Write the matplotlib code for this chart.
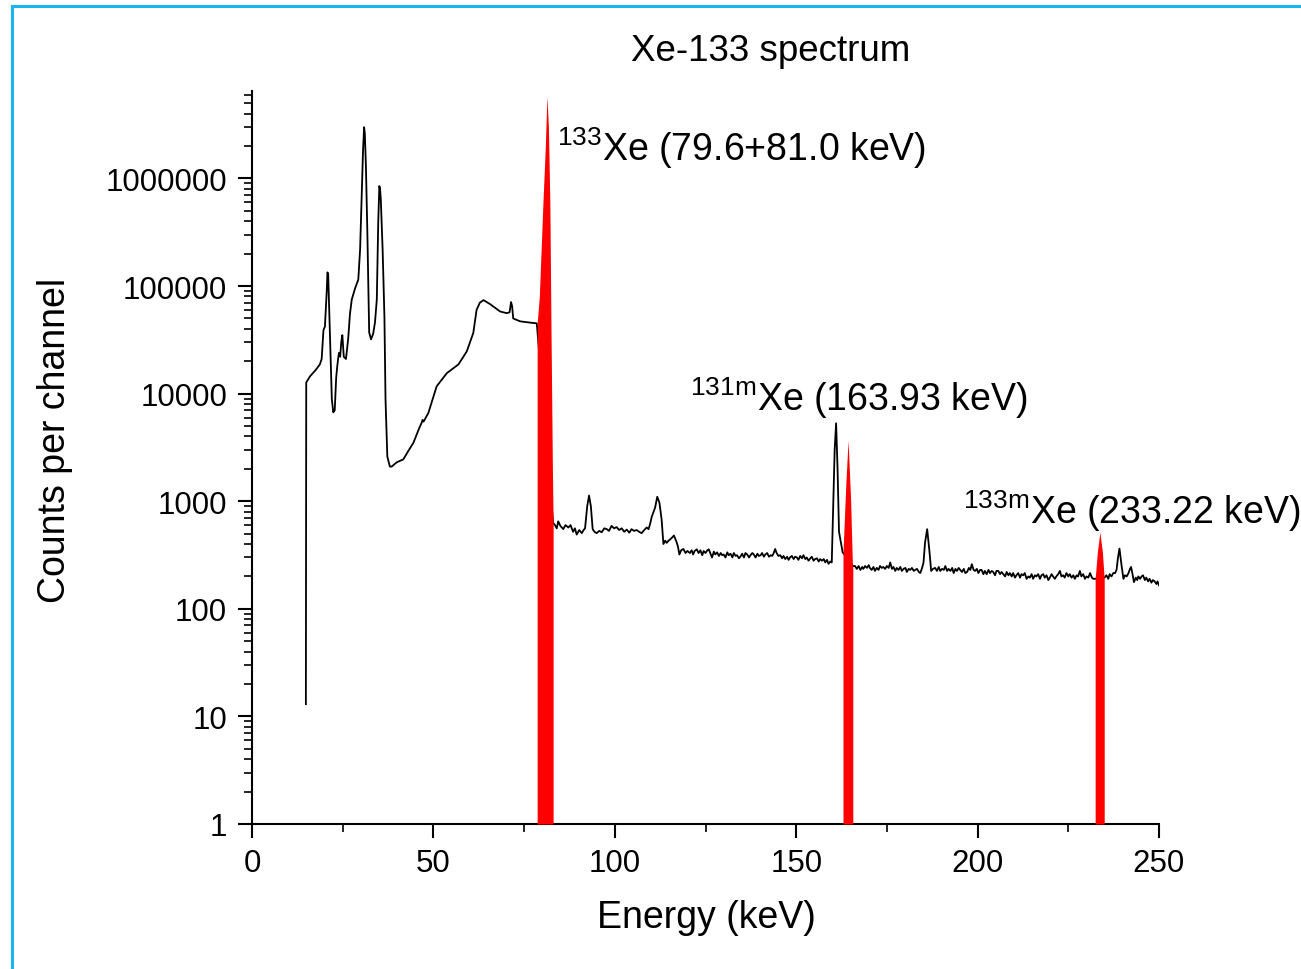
import numpy as np
import matplotlib
matplotlib.use('Agg')
import matplotlib.pyplot as plt
from matplotlib.lines import Line2D
from matplotlib.ticker import FixedLocator, FuncFormatter, LogLocator, NullFormatter

plt.rcParams['font.family'] = ['Liberation Sans', 'DejaVu Sans']
plt.rcParams['mathtext.fontset'] = 'custom'
plt.rcParams['mathtext.rm'] = 'Liberation Sans'
plt.rcParams['mathtext.default'] = 'regular'

# measured spectrum, low-energy part (keV, counts)
low_part = [
    (14.85, 13), (14.95, 12700), (16.0, 14500), (17.5, 16500), (18.7, 18700), (19.2, 21000),
    (19.7, 39000), (20.1, 42000), (20.6, 90000), (20.8, 134000), (21.0, 128000), (21.2, 75000),
    (21.6, 25000), (22.0, 8900), (22.4, 6700), (22.8, 7000), (23.2, 14000), (23.5, 18000),
    (23.8, 22000), (24.0, 24000), (24.3, 22000), (24.6, 30000), (24.9, 35000), (25.3, 22000),
    (25.9, 21000), (26.5, 32000), (27.0, 55000), (27.5, 75000), (28.4, 95000), (29.3, 115000),
    (29.8, 220000), (30.2, 640000), (30.6, 1.8e6), (30.9, 3.0e6), (31.1, 2.6e6), (31.4, 1.3e6),
    (31.8, 3.1e5), (32.1, 80000), (32.3, 37000), (32.8, 32000), (33.4, 36000), (33.9, 46000),
    (34.4, 75000), (34.8, 400000), (35.1, 850000), (35.3, 800000), (35.5, 640000), (36.0, 220000),
    (36.5, 52000), (36.8, 8900), (37.3, 2600), (38.0, 2100), (38.5, 2100), (39.9, 2300),
    (41.7, 2450), (43.0, 2900), (44.5, 3500), (46.0, 4700), (46.8, 5400), (47.0, 5700),
    (47.3, 5500), (48.6, 6600), (50.9, 11700), (53.7, 15500), (56.9, 18700), (59.2, 24700),
    (61.0, 36700), (61.9, 60000), (62.8, 70000), (63.8, 74000), (65.6, 68000), (68.4, 58000),
    (70.2, 56000), (71.0, 57000), (71.4, 71000), (71.7, 65000), (72.0, 50000), (73.9, 47000),
    (76.0, 46000), (78.5, 45000),
]

# measured spectrum above the 81 keV line
high_part = [
    (83.0, 630), (83.5, 600), (84.0, 560), (84.4, 650), (85.0, 590), (85.8, 550), (86.4, 600),
    (87.2, 570), (87.8, 600), (88.5, 520), (89.0, 560), (89.5, 490), (90.2, 540), (90.9, 505),
    (91.4, 540), (91.8, 560), (92.4, 900), (92.9, 1130), (93.4, 900), (93.9, 550), (94.4, 520),
    (95.0, 505), (95.7, 530), (96.4, 515), (97.1, 560), (97.8, 550), (98.4, 530), (99.1, 590),
    (99.8, 560), (100.5, 575), (101.2, 540), (101.9, 560), (102.6, 520), (103.3, 545), (104.0, 510),
    (104.6, 550), (105.3, 530), (106.0, 540), (106.7, 520), (107.4, 505), (108.1, 540), (108.8, 570),
    (109.3, 550), (109.7, 610), (110.2, 720), (110.7, 800), (111.1, 870), (111.7, 1100), (112.3, 970),
    (112.9, 680), (113.4, 400), (113.9, 430), (114.3, 410), (114.8, 430), (115.2, 440), (115.8, 460),
    (116.3, 480), (117.0, 420), (117.4, 380), (117.8, 320), (118.3, 350), (118.9, 360), (119.5, 330),
    (120.0, 345), (120.7, 330), (121.2, 350), (121.6, 320), (122.0, 345), (122.6, 357), (123.1, 330),
    (123.6, 350), (124.1, 315), (124.5, 345), (125.0, 330), (125.5, 350), (125.9, 357), (126.4, 325),
    (126.8, 300), (127.3, 340), (127.7, 320), (128.2, 335), (128.7, 310), (129.2, 330), (129.6, 315),
    (130.0, 320), (130.5, 300), (131.0, 335), (131.4, 315), (131.9, 325), (132.4, 300), (132.8, 330),
    (133.3, 310), (133.7, 315), (134.2, 295), (134.6, 305), (135.1, 325), (135.6, 300), (136.0, 330),
    (136.5, 320), (137.0, 300), (137.4, 315), (137.9, 330), (138.3, 320), (138.8, 300), (139.3, 325),
    (139.7, 310), (140.2, 315), (140.6, 330), (141.1, 305), (141.5, 320), (142.0, 330), (142.5, 305),
    (143.0, 315), (143.4, 310), (143.8, 330), (144.2, 360), (144.6, 330), (145.1, 310), (145.6, 315),
    (146.1, 295), (146.5, 310), (147.0, 290), (147.5, 305), (147.9, 285), (148.3, 300), (148.8, 310),
    (149.3, 290), (149.7, 305), (150.2, 300), (150.6, 285), (151.1, 310), (151.6, 295), (152.0, 315),
    (152.5, 290), (152.9, 300), (153.4, 280), (153.9, 295), (154.3, 305), (154.8, 280), (155.2, 290),
    (155.7, 295), (156.2, 275), (156.6, 290), (157.1, 280), (157.6, 290), (158.0, 270), (158.5, 285),
    (158.9, 262), (159.4, 275), (159.8, 270), (160.2, 900), (160.6, 3000), (161.0, 5300), (161.4, 2000),
    (161.8, 520), (162.3, 420), (162.8, 335), (165.6, 250), (166.2, 250), (166.7, 235), (167.2, 250),
    (167.7, 230), (168.2, 245), (168.5, 235), (169.0, 250), (169.5, 240), (170.0, 255), (170.3, 240),
    (170.8, 230), (171.3, 245), (171.7, 225), (172.2, 240), (172.7, 230), (173.1, 250), (173.6, 240),
    (174.0, 245), (174.5, 235), (175.0, 250), (175.5, 240), (175.9, 270), (176.4, 235), (176.8, 245),
    (177.3, 225), (177.7, 240), (178.2, 230), (178.7, 245), (179.1, 225), (179.6, 235), (180.1, 240),
    (180.5, 220), (181.0, 235), (181.4, 230), (181.9, 240), (182.4, 225), (182.8, 230), (183.3, 235),
    (183.8, 220), (184.2, 215), (184.7, 240), (185.1, 270), (185.5, 410), (186.1, 550), (186.7, 350),
    (187.2, 225), (187.7, 235), (188.3, 240), (188.8, 225), (189.3, 245), (189.7, 225), (190.2, 235),
    (190.7, 230), (191.1, 250), (191.6, 225), (192.0, 235), (192.5, 225), (193.0, 240), (193.4, 215),
    (193.9, 235), (194.3, 225), (194.8, 240), (195.2, 230), (195.7, 220), (196.2, 235), (196.6, 215),
    (197.1, 220), (197.6, 240), (198.0, 230), (198.4, 260), (198.9, 230), (199.3, 225), (199.8, 235),
    (200.2, 215), (200.7, 230), (201.1, 230), (201.6, 210), (202.0, 225), (202.5, 210), (203.0, 230),
    (203.4, 215), (203.9, 225), (204.3, 220), (204.8, 205), (205.2, 225), (205.7, 225), (206.2, 210),
    (206.6, 220), (207.1, 210), (207.6, 200), (208.0, 220), (208.5, 205), (208.9, 215), (209.4, 200),
    (209.8, 215), (210.3, 195), (210.7, 205), (211.2, 215), (211.7, 195), (212.1, 210), (212.6, 205),
    (213.0, 215), (213.5, 190), (214.0, 200), (214.4, 195), (214.9, 210), (215.3, 190), (215.8, 205),
    (216.2, 200), (216.7, 210), (217.2, 190), (217.6, 205), (218.1, 210), (218.5, 195), (219.0, 205),
    (219.5, 185), (219.9, 195), (220.4, 210), (220.8, 200), (221.3, 190), (221.7, 200), (222.2, 210),
    (222.7, 225), (223.1, 200), (223.6, 205), (224.0, 195), (224.5, 215), (225.0, 200), (225.4, 210),
    (225.9, 195), (226.4, 205), (226.8, 190), (227.3, 205), (227.7, 200), (228.2, 225), (228.6, 200),
    (229.1, 210), (229.6, 190), (230.0, 200), (230.5, 195), (231.0, 215), (231.5, 195), (231.9, 190),
    (232.3, 190), (235.0, 195), (235.5, 205), (236.0, 190), (236.4, 210), (236.9, 200), (237.4, 215),
    (237.9, 215), (238.3, 230), (238.7, 300), (239.1, 363), (239.4, 300), (239.7, 250), (240.2, 190),
    (240.6, 205), (241.1, 200), (241.6, 215), (242.0, 235), (242.3, 245), (242.7, 210), (243.1, 177),
    (243.6, 195), (244.0, 185), (244.3, 200), (244.8, 190), (245.2, 200), (245.6, 205), (246.1, 185),
    (246.5, 195), (247.0, 180), (247.4, 190), (247.9, 175), (248.3, 185), (248.8, 180), (249.3, 170),
    (249.6, 180), (250.0, 165),
]

# Xe lines filled in red
peak1_e = [78.6, 79.2, 79.7, 80.2, 80.8, 81.3, 81.7, 82.1, 82.4, 82.8, 83.0]
peak1_c = [45000, 80000, 220000, 600000, 1.8e6, 5.8e6, 3.0e6, 6e5, 45000, 2000, 650]
peak2_e = [162.9, 163.7, 164.3, 165.0, 165.5, 165.6]
peak2_c = [335, 1500, 3700, 1030, 250, 250]
peak3_e = [232.4, 233.0, 233.7, 234.4, 234.9]
peak3_c = [190, 335, 515, 335, 190]

labels = [r'$^{133}$Xe (79.6+81.0 keV)', r'$^{131m}$Xe (163.93 keV)', r'$^{133m}$Xe (233.22 keV)']
label_pos = [(84.1, 1.5e6), (120.7, 7100), (196.0, 624)]

energy, counts = np.array(low_part + high_part).T

fig = plt.figure(figsize=(13.01, 9.70), dpi=100)
ax = fig.add_axes([252 / 1301, 1 - 825 / 970, (1159 - 252) / 1301, (825 - 92) / 970])

ax.plot(energy, counts, color='black', lw=1.3, zorder=2)
for pe, pc in [(peak1_e, peak1_c), (peak2_e, peak2_c), (peak3_e, peak3_c)]:
    ax.fill_between(pe, 1, pc, color='#ff0000', lw=0, zorder=3)

for txt, (x, y) in zip(labels, label_pos):
    ax.text(x, y, txt, fontsize=27, ha='left', va='baseline', zorder=4)

ax.set_yscale('log')
ax.set_xlim(0, 250)
ax.set_ylim(1, 6.5e6)

ax.xaxis.set_major_locator(FixedLocator([0, 50, 100, 150, 200, 250]))
ax.xaxis.set_minor_locator(FixedLocator([25, 75, 125, 175, 225]))
ax.yaxis.set_major_locator(FixedLocator([1, 10, 100, 1000, 10000, 100000, 1000000]))
ax.yaxis.set_major_formatter(FuncFormatter(lambda v, p: f'{int(round(v))}'))
ax.yaxis.set_minor_locator(LogLocator(base=10, subs=np.arange(2, 10)))
ax.yaxis.set_minor_formatter(NullFormatter())

ax.tick_params(which='major', direction='out', length=10, width=1.5, labelsize=22.5)
ax.tick_params(axis='y', which='major', pad=8)
ax.tick_params(axis='x', which='major', pad=7)
ax.tick_params(which='minor', direction='out', length=5.5, width=1.2)

for s in ['top', 'right']:
    ax.spines[s].set_visible(False)
for s in ['left', 'bottom']:
    ax.spines[s].set_linewidth(1.5)

fig.text(771 / 1301, 1 - 61 / 970, 'Xe-133 spectrum', fontsize=26.5, ha='center', va='baseline')
fig.text(706 / 1301, 1 - 918 / 970, 'Energy (keV)', fontsize=27, ha='center', va='center')
fig.text(55 / 1301, 1 - 440 / 970, 'Counts per channel', fontsize=27, ha='center', va='center',
         rotation=90)

# blue frame on the top and left edges
blue = '#1ab4f0'
fig.add_artist(Line2D([12 / 1301, 12 / 1301], [0, 1 - 7 / 970], color=blue, lw=2.2,
                      transform=fig.transFigure))
fig.add_artist(Line2D([12 / 1301, 1], [1 - 7 / 970, 1 - 7 / 970], color=blue, lw=2.2,
                      transform=fig.transFigure))

fig.savefig('out.png', dpi=100)
